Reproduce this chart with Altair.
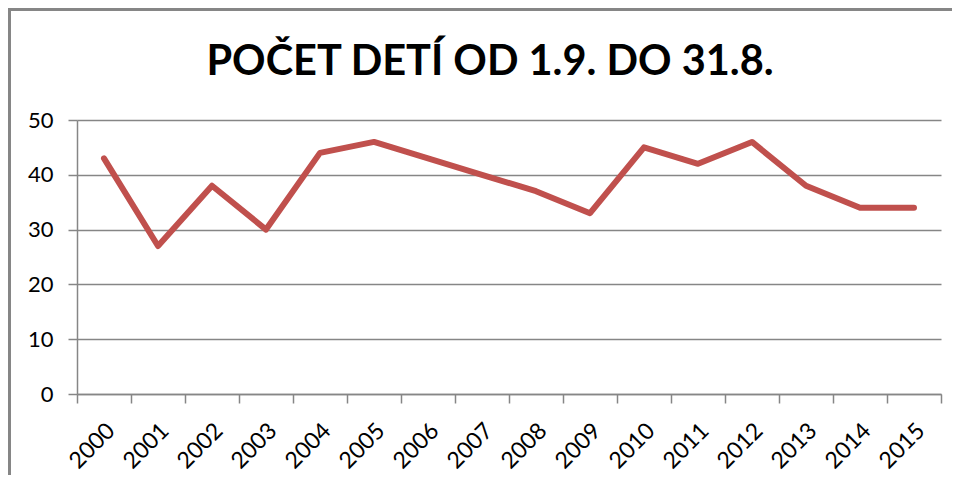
import altair as alt
import pandas as pd

years = ["2000", "2001", "2002", "2003", "2004", "2005", "2006", "2007",
         "2008", "2009", "2010", "2011", "2012", "2013", "2014", "2015"]
counts = [43, 27, 38, 30, 44, 46, 43, 40, 37, 33, 45, 42, 46, 38, 34, 34]
title_text = "POČET DETÍ OD 1.9. DO 31.8."

df = pd.DataFrame({"year": years, "count": counts})
title_df = pd.DataFrame({"t": [title_text]})

FONT = "Lato"
GRID = "#868686"

x = alt.X("year:O", title=None,
          scale=alt.Scale(paddingInner=0, paddingOuter=0),
          axis=alt.Axis(labelAngle=-45, labelFontSize=23, labelFont=FONT,
                        labelColor="#000000", tickBand="extent", tickExtra=True,
                        tickSize=9, tickColor=GRID, domainColor=GRID,
                        tickWidth=1.5, domainWidth=1.5, labelOffset=-1,
                        labelPadding=16, grid=False))
y = alt.Y("count:Q", title=None,
          scale=alt.Scale(domain=[0, 50]),
          axis=alt.Axis(values=[0, 10, 20, 30, 40, 50], labelFontSize=22,
                        labelFont=FONT, labelColor="#000000", tickSize=9,
                        tickColor=GRID, domainColor=GRID, tickWidth=1.5,
                        domainWidth=1.5, gridColor=GRID, gridWidth=1.5,
                        labelPadding=15))

line = alt.Chart(df).mark_line(color="#C0504D", strokeWidth=6,
                               strokeCap="round", strokeJoin="round").encode(x=x, y=y)

title = alt.Chart(title_df).mark_text(font=FONT, fontSize=41.5, fontWeight="bold",
                                      color="#000000", align="center",
                                      baseline="alphabetic").encode(
    text="t:N", x=alt.value(413), y=alt.value(-45))

border_top = alt.Chart(title_df).mark_rule(color=GRID, strokeWidth=3).encode(
    x=alt.value(-69), x2=alt.value(900), y=alt.value(-110.5))
border_left = alt.Chart(title_df).mark_rule(color=GRID, strokeWidth=3).encode(
    x=alt.value(-67.5), y=alt.value(-112), y2=alt.value(360))

chart = alt.layer(border_top, border_left, title, line).properties(
    width=864, height=274,
    autosize=alt.AutoSizeParams(type="none"),
    padding={"left": 69, "top": 112, "right": 11, "bottom": 81},
).configure_view(stroke=None)

chart.save("out.html", embed_options={"renderer": "svg", "actions": False})
